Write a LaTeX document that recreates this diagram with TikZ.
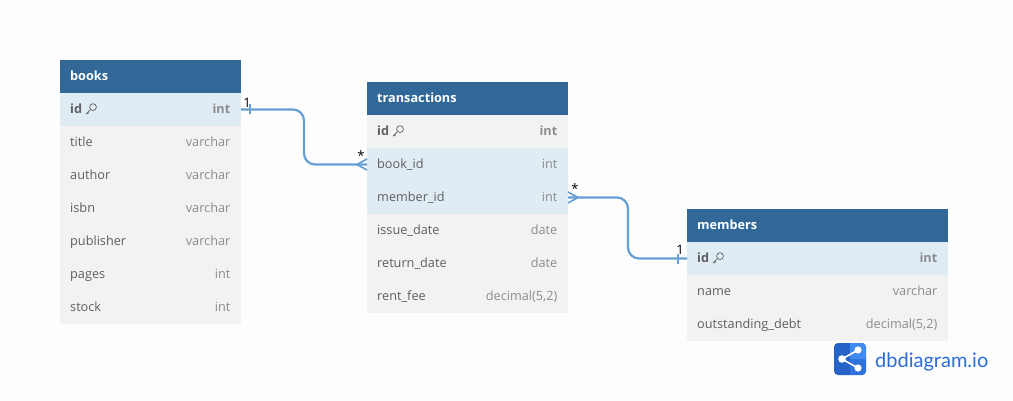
\documentclass[tikz,border=0pt]{standalone}
\usepackage{fontspec}
\setmainfont{Open Sans}
\newfontfamily\logofont{Lato}
\definecolor{hdr}{HTML}{316897}
\definecolor{rowa}{HTML}{F2F2F2}
\definecolor{rowb}{HTML}{DFECF4}
\definecolor{txt}{HTML}{5F5F5F}
\definecolor{typ}{HTML}{8C8C8C}
\definecolor{lnk}{HTML}{659FD3}
\definecolor{logoa}{HTML}{2563C9}
\definecolor{logob}{HTML}{3F8BEF}
\definecolor{logoc}{HTML}{2F72DC}
\definecolor{logot}{HTML}{2B6FD4}
\definecolor{bgc}{HTML}{FDFDFD}
\tikzset{
  x=1pt,y=-1pt,
  box/.style={anchor=north west,inner sep=0pt,outer sep=0pt,minimum height=33pt,text width=0pt,draw=none},
  hname/.style={anchor=base west,inner sep=0pt,text=white,font=\fontsize{12.7}{14}\selectfont\bfseries},
  fname/.style={anchor=base west,inner sep=0pt,text=txt,font=\fontsize{12.7}{14}\selectfont},
  ftype/.style={anchor=base east,inner sep=0pt,text=typ,font=\fontsize{12.7}{14}\selectfont},
  pkname/.style={fname,font=\fontsize{12.7}{14}\selectfont\bfseries},
  pktype/.style={ftype,font=\fontsize{12.7}{14}\selectfont\bfseries},
  rel/.style={draw=lnk,line width=2.2pt,rounded corners=11pt},
  relmark/.style={draw=lnk,line width=1.7pt},
  card/.style={inner sep=0pt,text=black,font=\fontsize{13}{14}\selectfont},
}
% name, x, y, width, colour
\newcommand{\cellbox}[5]{\node[box,fill=#5,minimum width=#4pt] (#1) at (#2,#3) {};}
% row: name, x, y, width, colour, label style, type style, label, type
\newcommand{\dbrow}[9]{%
  \cellbox{#1}{#2}{#3}{#4}{#5}
  \node[#6] (#1-l) at ([xshift=10pt,yshift=-3.8pt]#1.west) {#8};
  \node[#7] (#1-t) at ([xshift=-10.5pt,yshift=-3.8pt]#1.east) {#9};
}
\newcommand{\dbhead}[5]{%
  \cellbox{#1}{#2}{#3}{#4}{hdr}
  \node[hname] (#1-l) at ([xshift=10pt,yshift=-3.8pt]#1.west) {#5};
}
\newcommand{\keyicon}[1]{%
  \begin{scope}[shift={([xshift=9pt,yshift=4.5pt]#1.base east)},x=1pt,y=1pt,draw=txt,line width=0.7pt]
    \draw (1.7,1.7) circle (3.4pt);
    \draw (-0.7,-0.7) -- (-5,-5) -- (-3,-5.1) (-4,-4) -- (-2.4,-4.1);
  \end{scope}
}
\begin{document}
\begin{tikzpicture}
\useasboundingbox (0,0) rectangle (1013,401);
\fill[bgc] (0,0) rectangle (1013,401);

% books
\dbhead{books}{60}{60}{181}{books}
\dbrow{booksid}{60}{93}{181}{rowb}{pkname}{pktype}{id}{int}
\dbrow{bookstitle}{60}{126}{181}{rowa}{fname}{ftype}{title}{varchar}
\dbrow{booksauthor}{60}{159}{181}{rowa}{fname}{ftype}{author}{varchar}
\dbrow{booksisbn}{60}{192}{181}{rowa}{fname}{ftype}{isbn}{varchar}
\dbrow{bookspub}{60}{225}{181}{rowa}{fname}{ftype}{publisher}{varchar}
\dbrow{bookspages}{60}{258}{181}{rowa}{fname}{ftype}{pages}{int}
\dbrow{booksstock}{60}{291}{181}{rowa}{fname}{ftype}{stock}{int}
\keyicon{booksid-l}

% transactions
\dbhead{trans}{367}{82}{201}{transactions}
\dbrow{transid}{367}{115}{201}{rowa}{pkname}{pktype}{id}{int}
\dbrow{transbook}{367}{148}{201}{rowb}{fname}{ftype}{book\_id}{int}
\dbrow{transmember}{367}{181}{201}{rowb}{fname}{ftype}{member\_id}{int}
\dbrow{transissue}{367}{214}{201}{rowa}{fname}{ftype}{issue\_date}{date}
\dbrow{transreturn}{367}{247}{201}{rowa}{fname}{ftype}{return\_date}{date}
\dbrow{transfee}{367}{280}{201}{rowa}{fname}{ftype}{rent\_fee}{decimal(5,2)}
\keyicon{transid-l}

% members
\dbhead{members}{687}{209}{261}{members}
\dbrow{membersid}{687}{242}{261}{rowb}{pkname}{pktype}{id}{int}
\dbrow{membersname}{687}{275}{261}{rowa}{fname}{ftype}{name}{varchar}
\dbrow{membersdebt}{687}{308}{261}{rowa}{fname}{ftype}{outstanding\_debt}{decimal(5,2)}
\keyicon{membersid-l}

% relations
\coordinate (m1) at (304,0);
\coordinate (m2) at (628,0);
\draw[rel] (booksid.east) -- (booksid.east -| m1) -- (transbook.west -| m1) -- (transbook.west);
\draw[rel] (transmember.east) -- (transmember.east -| m2) -- (membersid.west -| m2) -- (membersid.west);
% one marks
\draw[relmark] ([xshift=9pt,yshift=-5pt]booksid.east) -- ([xshift=9pt,yshift=5pt]booksid.east);
\draw[relmark] ([xshift=-9pt,yshift=-5pt]membersid.west) -- ([xshift=-9pt,yshift=5pt]membersid.west);
% many marks
\draw[relmark] ([yshift=-5.5pt]transbook.west) -- ([xshift=-10pt]transbook.west) -- ([yshift=5.5pt]transbook.west);
\draw[relmark] ([yshift=-5.5pt]transmember.east) -- ([xshift=10pt]transmember.east) -- ([yshift=5.5pt]transmember.east);
% cardinalities
\node[card] (c1) at (247,103) {1};
\node[card] (c2) at (361,156) {*};
\node[card] (c3) at (575,189) {*};
\node[card] (c4) at (680,250) {1};

% logo
\fill[logoa,rounded corners=4pt] (834,343) rectangle (866,375);
\begin{scope}
  \clip[rounded corners=4pt] (834,343) rectangle (866,375);
  \fill[logob] (850,343) rectangle (866,359);
  \fill[logoc] (850,359) rectangle (866,375);
\end{scope}
\draw[white,line width=1.6pt] (858,350) -- (842,359) -- (858,368);
\fill[white] (858,350) circle (3.6pt) (842,359) circle (3.8pt) (858,368) circle (3.6pt);
\node[anchor=base west,inner sep=0pt,text=logot,font=\logofont\fontsize{20}{24}\selectfont] (logo) at (875,367) {dbdiagram.io};
\end{tikzpicture}
\end{document}
